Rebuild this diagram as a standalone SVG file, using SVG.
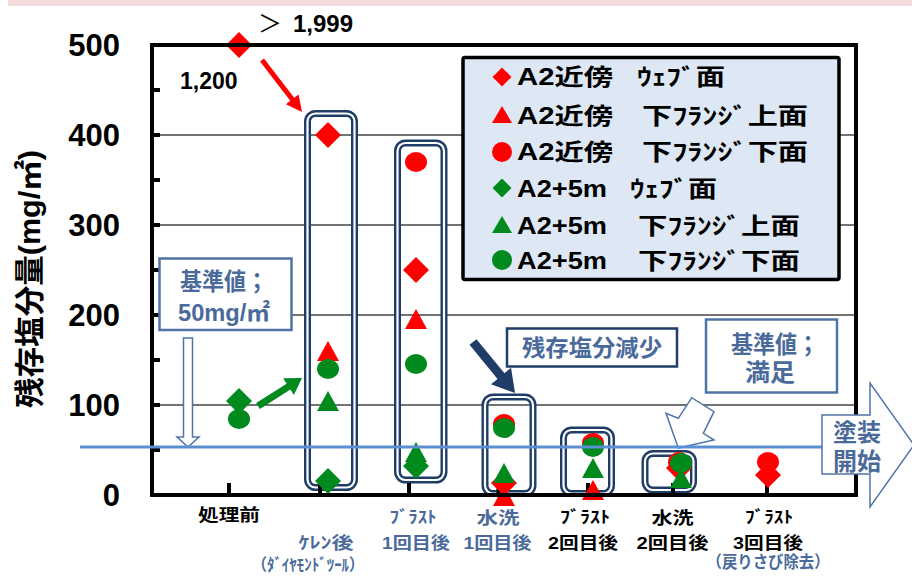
<svg xmlns="http://www.w3.org/2000/svg" xmlns:xlink="http://www.w3.org/1999/xlink" width="912" height="577" viewBox="0 0 912 577">
<style>
.num{font-family:"Liberation Sans","Noto Sans CJK JP",sans-serif;font-weight:bold;fill:#000}
.jp{font-family:"Liberation Sans","Noto Sans CJK JP",sans-serif;font-weight:bold}
.blk{fill:#000}
.bl{fill:#4a6a9b}
.grid{stroke:#444;stroke-width:1.5}
.axis{stroke:#000;stroke-width:4;fill:none}
.tick{stroke:#000;stroke-width:4}
.rb{fill:none;stroke:#1f3d66;stroke-width:7}
.rbw{fill:none;stroke:#fff;stroke-width:2.2}
.r{fill:#ff0000}
.g{fill:#008a1e}
.sbox{fill:#fff;stroke:#4f74a8;stroke-width:2.5}
</style>
<defs>
<path id="dia" d="M0,-13L13,0L0,13L-13,0Z"/>
<path id="tri" d="M0,-11L11,9L-11,9Z"/>
<ellipse id="cir" cx="0" cy="0" rx="11" ry="10"/>
<path id="ldia" d="M0,-9.5L9.5,0L0,9.5L-9.5,0Z"/>
<path id="ltri" d="M0,-9L10,8L-10,8Z"/>
<circle id="lcir" cx="0" cy="0" r="10"/>
</defs>
<rect x="8" y="0" width="904" height="6" fill="#f3dddd"/>

<g id="gridlines">
<line class="grid" x1="152" y1="135" x2="856" y2="135"/>
<line class="grid" x1="152" y1="225" x2="856" y2="225"/>
<line class="grid" x1="152" y1="315" x2="856" y2="315"/>
<line class="grid" x1="152" y1="405" x2="856" y2="405"/>
</g>

<g id="axis-labels">
<text class="num" font-size="31" text-anchor="end" x="120" y="56">500</text>
<text class="num" font-size="31" text-anchor="end" x="120" y="146">400</text>
<text class="num" font-size="31" text-anchor="end" x="120" y="236">300</text>
<text class="num" font-size="31" text-anchor="end" x="120" y="326">200</text>
<text class="num" font-size="31" text-anchor="end" x="120" y="416">100</text>
<text class="num" font-size="31" text-anchor="end" x="120" y="506">0</text>
<text class="jp blk" font-size="30" text-anchor="middle" transform="translate(40,279) rotate(-90)" textLength="258" lengthAdjust="spacingAndGlyphs">残存塩分量(mg/㎡)</text>
</g>

<g id="legend">
<rect x="463" y="57.5" width="376" height="222" rx="2" fill="#dde8f4" stroke="#000" stroke-width="3.5"/>
<use href="#ldia" class="r" x="502" y="77"/>
<use href="#ltri" class="r" x="502" y="115"/>
<use href="#lcir" class="r" x="502" y="152"/>
<use href="#ldia" class="g" x="502" y="188"/>
<use href="#ltri" class="g" x="502" y="225"/>
<use href="#lcir" class="g" x="502" y="260"/>
<g class="jp blk" font-size="23">
<text x="517" y="85" textLength="96" lengthAdjust="spacingAndGlyphs">A2近傍</text>
<text x="637" y="85" textLength="88" lengthAdjust="spacingAndGlyphs">ｳｪﾌﾞ面</text>
<text x="517" y="123.5" textLength="96" lengthAdjust="spacingAndGlyphs">A2近傍</text>
<text x="642" y="123.5" textLength="166" lengthAdjust="spacingAndGlyphs">下ﾌﾗﾝｼﾞ上面</text>
<text x="517" y="160" textLength="96" lengthAdjust="spacingAndGlyphs">A2近傍</text>
<text x="642" y="160" textLength="166" lengthAdjust="spacingAndGlyphs">下ﾌﾗﾝｼﾞ下面</text>
<text x="517" y="196.5" textLength="90" lengthAdjust="spacingAndGlyphs">A2+5m</text>
<text x="630" y="196.5" textLength="87" lengthAdjust="spacingAndGlyphs">ｳｪﾌﾞ面</text>
<text x="517" y="233.5" textLength="90" lengthAdjust="spacingAndGlyphs">A2+5m</text>
<text x="638" y="233.5" textLength="162" lengthAdjust="spacingAndGlyphs">下ﾌﾗﾝｼﾞ上面</text>
<text x="517" y="268.5" textLength="90" lengthAdjust="spacingAndGlyphs">A2+5m</text>
<text x="638" y="268.5" textLength="162" lengthAdjust="spacingAndGlyphs">下ﾌﾗﾝｼﾞ下面</text>
</g>
</g>

<g id="group-boxes">
<rect class="rb" x="307.5" y="113.5" width="47" height="374" rx="8"/>
<rect class="rbw" x="307.5" y="113.5" width="47" height="374" rx="8"/>
<rect class="rb" x="397.5" y="143" width="46.5" height="337" rx="8"/>
<rect class="rbw" x="397.5" y="143" width="46.5" height="337" rx="8"/>
<rect class="rb" x="485" y="397" width="48" height="96.5" rx="8"/>
<rect class="rbw" x="485" y="397" width="48" height="96.5" rx="8"/>
<rect class="rb" x="563.5" y="430" width="48" height="63.5" rx="8"/>
<rect class="rbw" x="563.5" y="430" width="48" height="63.5" rx="8"/>
<rect class="rb" x="645" y="453.5" width="48.5" height="36.5" rx="8"/>
<rect class="rbw" x="645" y="453.5" width="48.5" height="36.5" rx="8"/>
</g>

<g id="ticks">
<line class="tick" x1="152" y1="90" x2="160" y2="90"/>
<line class="tick" x1="152" y1="180" x2="160" y2="180"/>
<line class="tick" x1="152" y1="270" x2="160" y2="270"/>
<line class="tick" x1="152" y1="360" x2="160" y2="360"/>
<line class="tick" x1="152" y1="450" x2="160" y2="450"/>
<line class="tick" x1="152" y1="135" x2="160" y2="135"/>
<line class="tick" x1="152" y1="225" x2="160" y2="225"/>
<line class="tick" x1="152" y1="315" x2="160" y2="315"/>
<line class="tick" x1="152" y1="405" x2="160" y2="405"/>
<line class="tick" x1="229" y1="483" x2="229" y2="495"/>
<line class="tick" x1="320" y1="483" x2="320" y2="495"/>
<line class="tick" x1="409" y1="483" x2="409" y2="495"/>
<line class="tick" x1="498.5" y1="483" x2="498.5" y2="495"/>
<line class="tick" x1="588" y1="483" x2="588" y2="495"/>
<line class="tick" x1="673" y1="483" x2="673" y2="495"/>
<line class="tick" x1="767" y1="483" x2="767" y2="495"/>
</g>

<g id="points">
<use href="#dia" class="g" x="239" y="401"/>
<use href="#cir" class="g" x="239" y="419"/>
<use href="#dia" class="r" x="239" y="45"/>

<use href="#dia" class="r" x="328" y="135"/>
<use href="#tri" class="r" x="328" y="352"/>
<use href="#dia" class="g" x="328" y="481"/>
<use href="#tri" class="g" x="328" y="402"/>
<use href="#cir" class="g" x="328" y="369"/>

<use href="#dia" class="r" x="416" y="270"/>
<use href="#tri" class="r" x="416" y="320"/>
<use href="#cir" class="r" x="416" y="162"/>
<use href="#dia" class="g" x="416" y="466"/>
<use href="#tri" class="g" x="416" y="453"/>
<use href="#cir" class="g" x="416" y="364"/>

<use href="#dia" class="r" x="504" y="483"/>
<use href="#tri" class="r" x="504" y="497"/>
<use href="#cir" class="r" x="504" y="424"/>
<use href="#tri" class="g" x="504" y="474"/>
<use href="#cir" class="g" x="504" y="428"/>

<use href="#tri" class="r" x="593" y="491"/>
<use href="#cir" class="r" x="593" y="443"/>
<use href="#tri" class="g" x="593" y="469"/>
<use href="#cir" class="g" x="593" y="447"/>

<use href="#dia" class="r" x="679" y="468"/>
<use href="#cir" class="r" x="679" y="462"/>
<use href="#tri" class="g" x="681" y="479"/>
<use href="#cir" class="g" x="681" y="463"/>

<use href="#dia" class="r" x="768" y="475"/>
<use href="#cir" class="r" x="768" y="462"/>
</g>

<g id="frame">
<path class="axis" d="M152,45H856V495H152Z"/>
</g>

<g id="connectors">
<polygon fill="#ff0000" points="260.02,61.53 290.26,100.84 285.9,104.19 302,112 298.58,94.43 294.22,97.78 263.98,58.47"/>
<polygon fill="#008a1e" points="259.88,408.95 290.38,389.54 293.87,395.03 302,378 283.13,378.15 286.62,383.64 256.12,403.05"/>
<polygon fill="#1f3d66" points="469.53,344.86 497.54,378.88 490.97,384.29 515,393 511.05,367.75 504.48,373.16 476.47,339.14"/>
<polygon fill="#fff" stroke="#4f74a8" stroke-width="1.5" points="183.5,338 192.5,338 192.5,437 199,437 188,447 177,437 183.5,437"/>
<polygon fill="#fff" stroke="#4f74a8" stroke-width="1.5" points="678.3,448 666,413.3 678.3,418.3 691.7,397.7 714,411.7 703.3,433.3 714,440"/>
<line x1="80" y1="447" x2="822" y2="447" stroke="#5b8fd4" stroke-width="3"/>
</g>

<g id="value-labels">
<text class="num" font-size="23" x="180" y="89">1,200</text>
<text class="num" font-size="24" y="32"><tspan x="258" font-weight="normal" font-family="Noto Sans CJK JP, sans-serif">＞</tspan><tspan x="293">1,999</tspan></text>
</g>

<g id="note-standard">
<rect class="sbox" x="159.5" y="258.5" width="132" height="71.5"/>
<text class="jp bl" font-size="24" x="224" y="290" text-anchor="middle" textLength="88" lengthAdjust="spacingAndGlyphs">基準値；</text>
<text class="jp bl" font-size="24" x="224" y="321" text-anchor="middle" textLength="92" lengthAdjust="spacingAndGlyphs">50mg/㎡</text>
</g>

<g id="note-decrease">
<rect x="507" y="328.5" width="170" height="38" fill="#fff" stroke="#1f3d66" stroke-width="2.5"/>
<text class="jp bl" font-size="23" x="592" y="356" text-anchor="middle" textLength="140" lengthAdjust="spacingAndGlyphs">残存塩分減少</text>
</g>

<g id="note-satisfied">
<rect class="sbox" x="706" y="319.5" width="131" height="73"/>
<text class="jp bl" font-size="24" x="775" y="353" text-anchor="middle" textLength="88" lengthAdjust="spacingAndGlyphs">基準値；</text>
<text class="jp bl" font-size="24" x="770" y="381" text-anchor="middle" textLength="50" lengthAdjust="spacingAndGlyphs">満足</text>
</g>

<g id="paint-start">
<polygon fill="#fff" stroke="#4f74a8" stroke-width="1.5" points="822,415 870,415 870,383 914,445 870,507 870,474 822,474"/>
<text class="jp bl" font-size="24" x="857" y="441" text-anchor="middle" textLength="48" lengthAdjust="spacingAndGlyphs">塗装</text>
<text class="jp bl" font-size="24" x="857" y="470" text-anchor="middle" textLength="48" lengthAdjust="spacingAndGlyphs">開始</text>
</g>

<g id="category-labels" class="jp" font-size="16.5">
<text class="blk" x="229" y="521" text-anchor="middle" textLength="62" lengthAdjust="spacingAndGlyphs">処理前</text>
<text class="bl" x="326" y="549" text-anchor="middle" textLength="55" lengthAdjust="spacingAndGlyphs">ｹﾚﾝ後</text>
<text class="bl" x="308" y="571" text-anchor="middle" textLength="112" lengthAdjust="spacingAndGlyphs">（ﾀﾞｲﾔﾓﾝﾄﾞﾂｰﾙ）</text>
<text class="bl" x="413" y="523" text-anchor="middle" textLength="47" lengthAdjust="spacingAndGlyphs">ﾌﾞﾗｽﾄ</text>
<text class="bl" x="416" y="549" text-anchor="middle" textLength="68" lengthAdjust="spacingAndGlyphs">1回目後</text>
<text class="bl" x="498" y="524" text-anchor="middle" textLength="43" lengthAdjust="spacingAndGlyphs">水洗</text>
<text class="bl" x="497.5" y="549" text-anchor="middle" textLength="68" lengthAdjust="spacingAndGlyphs">1回目後</text>
<text class="blk" x="585" y="523" text-anchor="middle" textLength="50" lengthAdjust="spacingAndGlyphs">ﾌﾞﾗｽﾄ</text>
<text class="blk" x="583" y="549" text-anchor="middle" textLength="70" lengthAdjust="spacingAndGlyphs">2回目後</text>
<text class="blk" x="672.5" y="524" text-anchor="middle" textLength="42" lengthAdjust="spacingAndGlyphs">水洗</text>
<text class="blk" x="672.5" y="549" text-anchor="middle" textLength="72" lengthAdjust="spacingAndGlyphs">2回目後</text>
<text class="blk" x="769" y="523" text-anchor="middle" textLength="48" lengthAdjust="spacingAndGlyphs">ﾌﾞﾗｽﾄ</text>
<text class="blk" x="768" y="549" text-anchor="middle" textLength="70" lengthAdjust="spacingAndGlyphs">3回目後</text>
<text class="bl" x="768" y="567.5" text-anchor="middle" textLength="123" lengthAdjust="spacingAndGlyphs">（戻りさび除去）</text>
</g>
</svg>
